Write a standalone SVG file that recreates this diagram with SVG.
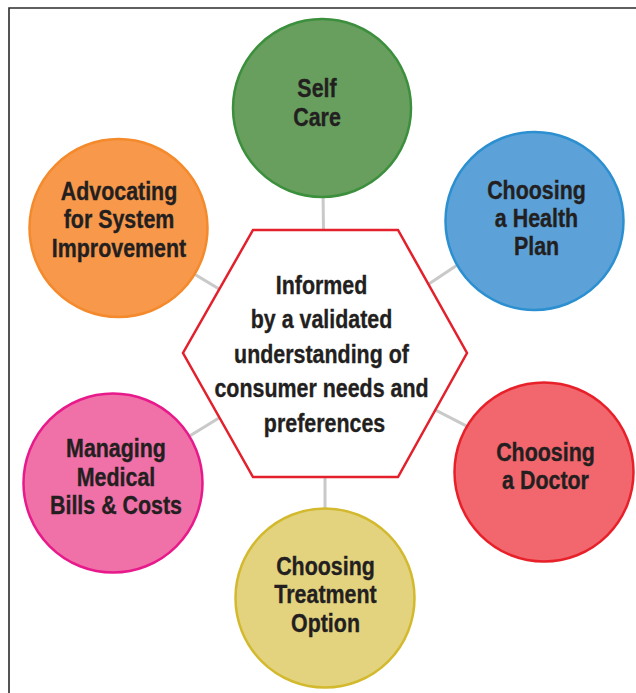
<svg xmlns="http://www.w3.org/2000/svg" width="636" height="693" viewBox="0 0 636 693">
  <style>
    .frame { fill: none; stroke: #2b2b2b; stroke-width: 1.6; }
    .link { stroke: #c9c9c9; stroke-width: 3; fill: none; }
    .hub { fill: #ffffff; stroke: #e3202b; stroke-width: 2.5; stroke-linejoin: miter; }
    .spoke { stroke-width: 2.5; }
    .lbl { font-family: "Liberation Sans", Arial, sans-serif; font-weight: bold; font-size: 25.5px; fill: #231f20; stroke: #231f20; stroke-width: 0.35; text-anchor: middle; }
  </style>
  <rect width="636" height="693" fill="#ffffff"/>
  <!-- page frame (top and left rules only) -->
  <path class="frame" d="M9,693 V8 H636"/>

  <!-- spokes from the hub to each circle -->
  <g id="connectors">
    <line class="link" x1="325" y1="353" x2="322" y2="108"/>
    <line class="link" x1="325" y1="353" x2="534" y2="214"/>
    <line class="link" x1="325" y1="353" x2="544" y2="466"/>
    <line class="link" x1="325" y1="353" x2="325" y2="598"/>
    <line class="link" x1="325" y1="353" x2="113" y2="483"/>
    <line class="link" x1="325" y1="353" x2="118" y2="228"/>
  </g>

  <!-- labels are set in a horizontally condensed bold face: each text block is
       translated to its centre and squeezed to 84% width -->
  <g id="hub">
    <polygon class="hub" points="253,230 398,230 467,353 398,477 253,477 183,353"/>
    <g transform="translate(324.5,0) scale(0.84,1)">
      <text class="lbl">
        <tspan x="0" y="294">Informed</tspan>
        <tspan x="0" y="328.5">by a validated</tspan>
        <tspan x="0" y="363">understanding of</tspan>
        <tspan x="0" y="397.5">consumer needs and</tspan>
        <tspan x="0" y="432">preferences</tspan>
      </text>
    </g>
  </g>

  <g id="self-care">
    <circle class="spoke" cx="322" cy="108" r="89" fill="#689f5f" stroke="#3c8f3c"/>
    <g transform="translate(317,0) scale(0.84,1)">
      <text class="lbl"><tspan x="0" y="97">Self</tspan><tspan x="0" y="126.5">Care</tspan></text>
    </g>
  </g>

  <g id="health-plan">
    <circle class="spoke" cx="534.5" cy="221" r="89" fill="#5ca2d8" stroke="#2b8fd0"/>
    <g transform="translate(536.5,0) scale(0.84,1)">
      <text class="lbl"><tspan x="0" y="199">Choosing</tspan><tspan x="0" y="227">a Health</tspan><tspan x="0" y="255">Plan</tspan></text>
    </g>
  </g>

  <g id="doctor">
    <circle class="spoke" cx="544" cy="472" r="89.5" fill="#f2666d" stroke="#e7202a"/>
    <g transform="translate(545.5,0) scale(0.84,1)">
      <text class="lbl"><tspan x="0" y="461">Choosing</tspan><tspan x="0" y="489.5">a Doctor</tspan></text>
    </g>
  </g>

  <g id="treatment">
    <circle class="spoke" cx="325" cy="598" r="89.5" fill="#e3d37f" stroke="#d3b92d"/>
    <g transform="translate(325.5,0) scale(0.84,1)">
      <text class="lbl"><tspan x="0" y="575">Choosing</tspan><tspan x="0" y="603.5">Treatment</tspan><tspan x="0" y="632">Option</tspan></text>
    </g>
  </g>

  <g id="bills">
    <circle class="spoke" cx="113" cy="483" r="89.5" fill="#f070a8" stroke="#e8198a"/>
    <g transform="translate(116,0) scale(0.84,1)">
      <text class="lbl"><tspan x="0" y="457.5">Managing</tspan><tspan x="0" y="486">Medical</tspan><tspan x="0" y="514.5">Bills &amp; Costs</tspan></text>
    </g>
  </g>

  <g id="advocacy">
    <circle class="spoke" cx="118.5" cy="228" r="89" fill="#f7984b" stroke="#f48a2c"/>
    <g transform="translate(119,0) scale(0.84,1)">
      <text class="lbl"><tspan x="0" y="200">Advocating</tspan><tspan x="0" y="228.5">for System</tspan><tspan x="0" y="257">Improvement</tspan></text>
    </g>
  </g>
</svg>
